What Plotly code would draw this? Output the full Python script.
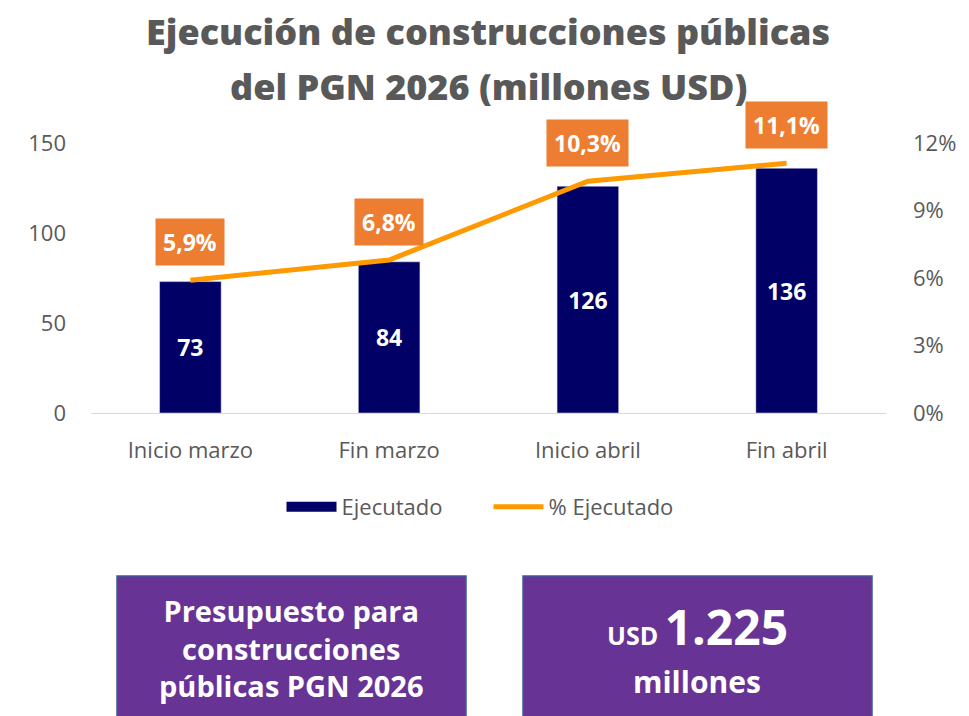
import plotly.graph_objects as go

# datos
categorias = ["Inicio marzo", "Fin marzo", "Inicio abril", "Fin abril"]
ejecutado = [73, 84, 126, 136]
pct_ejecutado = [5.9, 6.8, 10.3, 11.1]
pct_labels = ["5,9%", "6,8%", "10,3%", "11,1%"]

titulo_1 = "Ejecución de construcciones públicas"
titulo_2 = "del PGN 2026 (millones USD)"
caja_izq = "Presupuesto para<br>construcciones<br>públicas PGN 2026"
caja_der_1 = ("<span style='font-size:25px'>USD </span>"
              "<span style='font-size:48px'>1.225</span>")
caja_der_2 = "millones"

FONT = "Open Sans"
GRIS = "#595959"
AZUL = "#000066"
NARANJA = "#FF9900"
NARANJA_ETQ = "#ED7D31"
MORADO = "#673395"

fig = go.Figure()

fig.add_trace(go.Bar(
    x=categorias, y=ejecutado, name="Ejecutado",
    marker=dict(color=AZUL),
    width=0.31, showlegend=False,
    text=[str(v) for v in ejecutado],
    textposition="inside", insidetextanchor="middle",
    textfont=dict(color="white", size=23, family=FONT, weight="bold"),
))

# entrada de leyenda con rectangulo ancho (como en el original)
fig.add_trace(go.Scatter(
    x=[None], y=[None], name="Ejecutado", mode="lines",
    line=dict(color=AZUL, width=17),
))

fig.add_trace(go.Scatter(
    x=categorias, y=pct_ejecutado, name="% Ejecutado", yaxis="y2",
    mode="lines", line=dict(color=NARANJA, width=5),
))

annotations = []
for c, v, t in zip(categorias, pct_ejecutado, pct_labels):
    annotations.append(dict(
        x=c, y=v, xref="x", yref="y2", text=t, showarrow=False, yshift=38,
        font=dict(color="white", size=23, family=FONT, weight="bold"),
        bgcolor=NARANJA_ETQ, borderpad=7,
    ))

# la pagina tiene un margen de 8px; el area de trazado queda en pantalla
# entre x 91-886 y y 143-413
fig.update_layout(
    width=969, height=716,
    margin=dict(l=83, r=91, t=135, b=311),
    paper_bgcolor="white", plot_bgcolor="white",
    font=dict(family=FONT, color=GRIS, size=22),
    showlegend=True,
    legend=dict(orientation="h", x=0.5, xanchor="center", y=-0.27, yanchor="top",
                font=dict(size=22, color=GRIS), itemwidth=50,
                entrywidth=142, entrywidthmode="pixels"),
    xaxis=dict(showline=True, linecolor="#d9d9d9", linewidth=1, ticks="",
               tickfont=dict(size=22, color=GRIS), ticklabelstandoff=18),
    yaxis=dict(range=[0, 150], dtick=50, showgrid=False, zeroline=False,
               tickfont=dict(size=22, color=GRIS), ticklabelstandoff=24),
    yaxis2=dict(range=[0, 12], dtick=3, ticksuffix="%", overlaying="y", side="right",
                showgrid=False, zeroline=False, tickfont=dict(size=22, color=GRIS),
                ticklabelstandoff=26),
)


# posiciones en pixeles de pantalla convertidas a paper
def py(pix):
    return (413 - pix) / 270


def px(pix):
    return (pix - 91) / 795


for txt, ypix in [(titulo_1, 32), (titulo_2, 86)]:
    annotations.append(dict(
        x=px(488), y=py(ypix), xref="paper", yref="paper", text=txt,
        showarrow=False, xanchor="center", yanchor="middle",
        font=dict(size=36, color=GRIS, family=FONT, weight=800),
    ))

# cajas inferiores
shapes = []
for x0, x1 in [(117, 466), (523, 872)]:
    shapes.append(dict(type="rect", xref="paper", yref="paper",
                       x0=px(x0), x1=px(x1), y0=py(576), y1=py(730),
                       fillcolor=MORADO, line=dict(color="#3F5A96", width=1.5)))

annotations.append(dict(
    x=px(291), y=py(648), xref="paper", yref="paper", text=caja_izq,
    showarrow=False, xanchor="center", yanchor="middle",
    font=dict(size=29, color="white", family=FONT, weight="bold"),
))
annotations.append(dict(
    x=px(697), y=py(626), xref="paper", yref="paper", text=caja_der_1,
    showarrow=False, xanchor="center", yanchor="middle",
    font=dict(size=30, color="white", family=FONT, weight="bold"),
))
annotations.append(dict(
    x=px(697), y=py(681), xref="paper", yref="paper", text=caja_der_2,
    showarrow=False, xanchor="center", yanchor="middle",
    font=dict(size=30, color="white", family=FONT, weight="bold"),
))

fig.update_layout(annotations=annotations, shapes=shapes)

fig.write_html("out.html")
